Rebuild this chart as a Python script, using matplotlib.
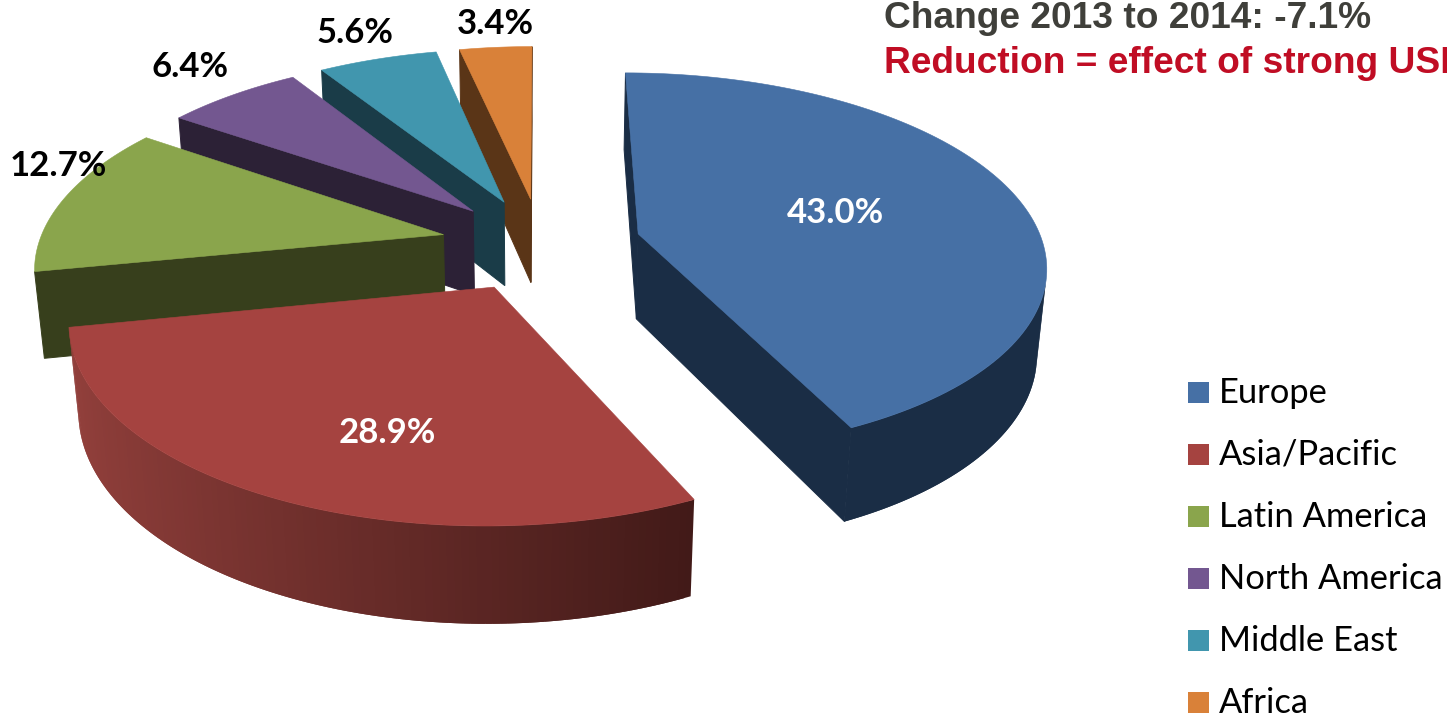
import numpy as np
import matplotlib

matplotlib.use("Agg")
import matplotlib.pyplot as plt
from matplotlib.colors import LinearSegmentedColormap
from matplotlib.patches import Rectangle

regions = ["Europe", "Asia/Pacific", "Latin America", "North America", "Middle East", "Africa"]
shares = [43.0, 28.9, 12.7, 6.4, 5.6, 3.4]

top_colors = ["#4670A5", "#A54340", "#8AA54C", "#735790", "#4196AE", "#D98139"]
side_colors = ["#1A2D45", "#421A18", "#373F1C", "#2C2136", "#1A3C48", "#5A3517"]
label_colors = ["white", "white", "black", "black", "black", "black"]
label_xy = [(835, 213), (387, 433), (58, 166), (190, 67), (355, 33), (495, 24)]

# camera and pie geometry, radius = 1
SIN_E = 0.465
COS_E = np.sqrt(1 - SIN_E**2)
CAM_DIST = 5.85
FOCAL = 2368
CX, CY = 541, 244
EXPLODE = 0.248
THICK = 0.243

red_wall = LinearSegmentedColormap.from_list("red_wall", ["#421A18", "#93403C"])


def project(x, y, z):
    depth = CAM_DIST + y * COS_E - z * SIN_E
    up = y * SIN_E + z * COS_E
    return CX + FOCAL * x / depth, CY - FOCAL * up / depth


def faces_camera(normal, point):
    cam = np.array([0, -CAM_DIST * COS_E, CAM_DIST * SIN_E])
    return np.dot(normal, cam - np.array(point)) > 0


def fill3d(ax, xs, ys, zs, color, edge=0):
    u, v = project(np.asarray(xs, float), np.asarray(ys, float), np.asarray(zs, float))
    ax.fill(u, v, facecolor=color, edgecolor=color if edge else "none", lw=edge)


def draw_slice(ax, start, end, top, side, wall_cmap=None):
    mid = (start + end) / 2
    ox, oy = EXPLODE * np.sin(mid), EXPLODE * np.cos(mid)
    th = np.linspace(start, end, 120)
    rim_x, rim_y = ox + np.sin(th), oy + np.cos(th)

    # cut faces, with a thin edge to close the gap against the wall
    for ang, normal in (
        (start, (-np.cos(start), np.sin(start), 0)),
        (end, (np.cos(end), -np.sin(end), 0)),
    ):
        ex, ey = ox + np.sin(ang), oy + np.cos(ang)
        mx, my = (ox + ex) / 2, (oy + ey) / 2
        if faces_camera(normal, (mx, my, 0)):
            fill3d(ax, [ox, ex, ex, ox], [oy, ey, ey, oy], [0, 0, -THICK, -THICK], side, edge=0.7)

    # outer wall, strips overlap the next step so no seams show
    for i in range(len(th) - 1):
        am = (th[i] + th[i + 1]) / 2
        if not faces_camera((np.sin(am), np.cos(am), 0), (rim_x[i], rim_y[i], 0)):
            continue
        color = side
        if wall_cmap is not None:
            # shade runs from light on the left to dark at the right tip
            color = wall_cmap(1 - (rim_x[i] - rim_x.min()) / np.ptp(rim_x))
        j = min(i + 2, len(th) - 1)
        fill3d(
            ax,
            [rim_x[i], rim_x[j], rim_x[j], rim_x[i]],
            [rim_y[i], rim_y[j], rim_y[j], rim_y[i]],
            [0, 0, -THICK, -THICK],
            color,
        )

    # top
    xs = np.r_[ox, rim_x]
    ys = np.r_[oy, rim_y]
    fill3d(ax, xs, ys, np.zeros_like(xs), top, edge=0.4)


fig = plt.figure(figsize=(14.47, 7.15), dpi=100)
ax = fig.add_axes([0, 0, 1, 1])
ax.set_xlim(0, 1447)
ax.set_ylim(715, 0)
ax.axis("off")

edges = np.r_[0, np.cumsum(shares)] / sum(shares) * 2 * np.pi
mids = (edges[:-1] + edges[1:]) / 2

# far slices first so nearer ones paint over them
for i in np.argsort(-np.cos(mids)):
    draw_slice(
        ax,
        edges[i],
        edges[i + 1],
        top_colors[i],
        side_colors[i],
        red_wall if regions[i] == "Asia/Pacific" else None,
    )

for val, (lx, ly), col in zip(shares, label_xy, label_colors):
    ax.text(lx, ly, f"{val:.1f}%", color=col, fontsize=25, fontweight="bold",
            family="Lato", ha="center", va="center")

ax.text(884, 28, "Change 2013 to 2014: -7.1%", color="#3F3F3A", fontsize=26.7,
        fontweight="bold", family="Liberation Sans", va="baseline")
ax.text(884, 73, "Reduction = effect of strong USD", color="#C00D24", fontsize=26.7,
        fontweight="bold", family="Liberation Sans", va="baseline", clip_on=False)

# legend
for i, (name, col) in enumerate(zip(regions, top_colors)):
    y = 392.5 + 62 * i
    ax.add_patch(Rectangle((1188, y - 10.5), 21, 21, facecolor=col, edgecolor="none"))
    ax.text(1219, y + 10.5, name, fontsize=24.8, family="Lato", color="black", va="baseline")

fig.savefig("out.png", dpi=100)
